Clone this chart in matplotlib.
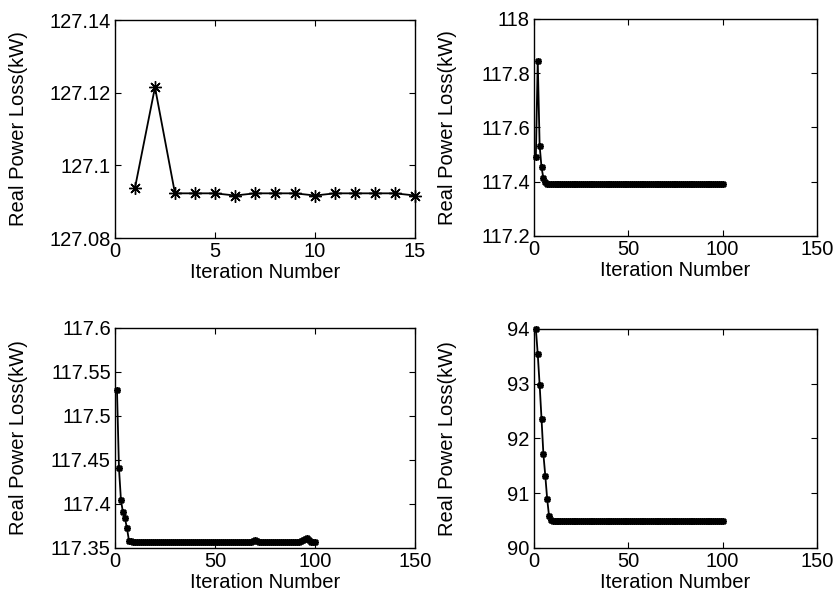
import matplotlib.pyplot as plt
import numpy as np

plt.rcParams['font.family'] = ['Liberation Sans', 'DejaVu Sans']

# Panel a: 15 iterations
iter_a = list(range(1, 16))
loss_a = [127.0938, 127.1215, 127.0923, 127.0923, 127.0923, 127.0917, 127.0923,
          127.0923, 127.0923, 127.0917, 127.0923, 127.0923, 127.0923, 127.0923,
          127.0917]

# Panel b: 100 iterations
iter_b = list(range(1, 101))
loss_b = [117.492, 117.846, 117.533, 117.453, 117.413, 117.398, 117.392, 117.391, 117.391, 117.391,
          117.391, 117.391, 117.391, 117.391, 117.391, 117.391, 117.391, 117.391, 117.391, 117.391,
          117.391, 117.391, 117.391, 117.391, 117.391, 117.391, 117.391, 117.391, 117.391, 117.391,
          117.391, 117.391, 117.391, 117.391, 117.391, 117.391, 117.391, 117.391, 117.391, 117.391,
          117.391, 117.391, 117.391, 117.391, 117.391, 117.391, 117.391, 117.391, 117.391, 117.391,
          117.391, 117.391, 117.391, 117.391, 117.391, 117.391, 117.391, 117.391, 117.391, 117.391,
          117.391, 117.391, 117.391, 117.391, 117.391, 117.391, 117.391, 117.391, 117.391, 117.391,
          117.391, 117.391, 117.391, 117.391, 117.391, 117.391, 117.391, 117.391, 117.391, 117.391,
          117.391, 117.391, 117.391, 117.391, 117.391, 117.391, 117.391, 117.391, 117.391, 117.391,
          117.391, 117.391, 117.391, 117.391, 117.391, 117.391, 117.391, 117.391, 117.391, 117.391]

# Panel c: 100 iterations
iter_c = list(range(1, 101))
loss_c = [117.530, 117.4405, 117.404, 117.3905, 117.3837, 117.3724, 117.3583, 117.3575, 117.3572, 117.3570,
          117.3568, 117.3570, 117.3566, 117.3568, 117.3571, 117.3569, 117.3567, 117.3570, 117.3572, 117.3568,
          117.3566, 117.3569, 117.3571, 117.3568, 117.3567, 117.3570, 117.3568, 117.3566, 117.3569, 117.3570,
          117.3567, 117.3568, 117.3570, 117.3566, 117.3569, 117.3571, 117.3568, 117.3567, 117.3569, 117.3570,
          117.3566, 117.3568, 117.3570, 117.3569, 117.3567, 117.3571, 117.3568, 117.3566, 117.3569, 117.3570,
          117.3568, 117.3567, 117.3570, 117.3569, 117.3571, 117.3568, 117.3566, 117.3569, 117.3570, 117.3568,
          117.3567, 117.3570, 117.3569, 117.3571, 117.3568, 117.3570, 117.3569, 117.3572, 117.3574, 117.3590,
          117.3575, 117.3569, 117.3568, 117.3570, 117.3567, 117.3569, 117.3571, 117.3568, 117.3566, 117.3569,
          117.3570, 117.3568, 117.3567, 117.3570, 117.3569, 117.3568, 117.3567, 117.3570, 117.3569, 117.3571,
          117.3570, 117.3572, 117.3575, 117.3585, 117.3598, 117.3612, 117.3590, 117.3572, 117.3566, 117.3565]

# Panel d: 100 iterations
iter_d = list(range(1, 101))
loss_d = [94.00, 93.54, 92.98, 92.36, 91.71, 91.32, 90.895, 90.58, 90.51, 90.49,
          90.49, 90.49, 90.49, 90.49, 90.49, 90.49, 90.49, 90.49, 90.49, 90.49,
          90.49, 90.49, 90.49, 90.49, 90.49, 90.49, 90.49, 90.49, 90.49, 90.49,
          90.49, 90.49, 90.49, 90.49, 90.49, 90.49, 90.49, 90.49, 90.49, 90.49,
          90.49, 90.49, 90.49, 90.49, 90.49, 90.49, 90.49, 90.49, 90.49, 90.49,
          90.49, 90.49, 90.49, 90.49, 90.49, 90.49, 90.49, 90.49, 90.49, 90.49,
          90.49, 90.49, 90.49, 90.49, 90.49, 90.49, 90.49, 90.49, 90.49, 90.49,
          90.49, 90.49, 90.49, 90.49, 90.49, 90.49, 90.49, 90.49, 90.49, 90.49,
          90.49, 90.49, 90.49, 90.49, 90.49, 90.49, 90.49, 90.49, 90.49, 90.49,
          90.49, 90.49, 90.49, 90.49, 90.49, 90.49, 90.49, 90.49, 90.49, 90.49]

fig = plt.figure(figsize=(8.38, 6.0), dpi=100)

# posizione, x, y, xlim, xticks, ylim, yticks, marker size, marker edge, posizione ylabel
pannelli = [
    ([0.1372, 0.6033, 0.358, 0.3633], iter_a, loss_a, (0, 15), [0, 5, 10, 15],
     (127.08, 127.14), [127.08, 127.1, 127.12, 127.14], 9, 1.0, -0.29),
    ([0.6372, 0.6067, 0.3377, 0.3617], iter_b, loss_b, (0, 150), [0, 50, 100, 150],
     (117.2, 118.0), [117.2, 117.4, 117.6, 117.8, 118], 5, 1.2, -0.272),
    ([0.1372, 0.0867, 0.358, 0.3667], iter_c, loss_c, (0, 150), [0, 50, 100, 150],
     (117.35, 117.6), [117.35, 117.4, 117.45, 117.5, 117.55, 117.6], 5, 1.2, -0.29),
    ([0.6372, 0.0867, 0.3377, 0.365], iter_d, loss_d, (0, 150), [0, 50, 100, 150],
     (90, 94), [90, 91, 92, 93, 94], 5, 1.2, -0.272),
]

for pos, x, y, xl, xt, yl, yt, ms, mew, ylx in pannelli:
    ax = fig.add_axes(pos)
    ax.plot(x, y, color='black', linewidth=1.3, marker=(8, 2, 0),
            markersize=ms, markeredgewidth=mew, clip_on=False)
    ax.set_xlim(*xl)
    ax.set_ylim(*yl)
    ax.set_xticks(xt)
    ax.set_yticks(yt)
    ax.set_yticklabels(['%g' % v for v in yt])
    ax.tick_params(direction='in', top=True, right=True, length=4,
                   labelsize=14.5, pad=3)
    ax.set_xlabel('Iteration Number', fontsize=14.5, labelpad=1)
    ax.set_ylabel('Real Power Loss(kW)', fontsize=14.5)
    ax.yaxis.set_label_coords(ylx, 0.5)
    for s in ax.spines.values():
        s.set_linewidth(1.0)

fig.savefig('out.png', dpi=100)
